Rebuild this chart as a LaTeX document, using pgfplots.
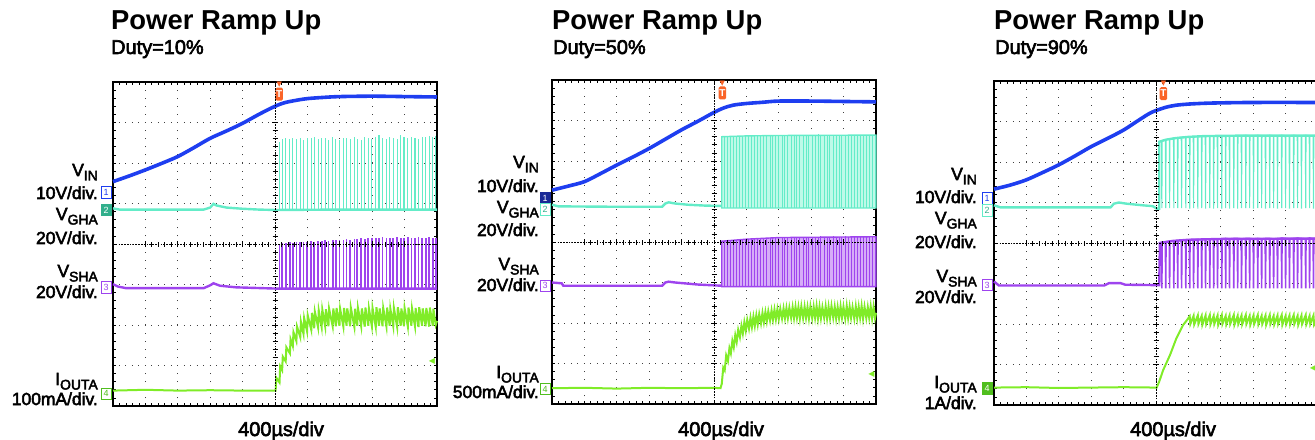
\documentclass[border=0pt]{standalone}
\usepackage{pgfplots}
\pgfplotsset{compat=1.18}
\usepackage{pgfplotstable}
\usepackage{fontspec}
\setmainfont{Liberation Sans}
\newfontfamily\lblfont{Liberation Sans}[FakeBold=3]
\newfontfamily\symfont{DejaVu Sans}

\definecolor{vin}{RGB}{30,62,240}
\definecolor{vgha}{RGB}{100,236,200}
\definecolor{vghalt}{RGB}{190,250,232}
\definecolor{vsha}{RGB}{158,68,238}
\definecolor{vshalt}{RGB}{214,172,248}
\definecolor{iout}{RGB}{128,236,40}
\definecolor{trig}{RGB}{250,100,40}
\definecolor{chtwo}{RGB}{50,175,140}
\definecolor{chone}{RGB}{25,40,150}
\definecolor{chfour}{RGB}{80,190,30}

% pulse trains: x, gate (base, height), switch node (base, height)
\pgfplotstableread{
x gy gv sy sv
0.14 0.85 1.68 -1.09 1.10
0.22 0.85 1.74 -1.09 1.12
0.33 0.85 1.76 -1.09 1.12
0.46 0.85 1.75 -1.09 1.13
0.55 0.85 1.77 -1.09 1.12
0.66 0.85 1.74 -1.09 1.14
0.78 0.85 1.76 -1.09 1.13
0.88 0.85 1.73 -1.09 1.15
0.99 0.85 1.77 -1.09 1.14
1.12 0.85 1.76 -1.09 1.16
1.21 0.85 1.78 -1.09 1.15
1.33 0.85 1.74 -1.09 1.17
1.44 0.85 1.77 -1.09 1.16
1.55 0.85 1.76 -1.09 1.18
1.65 0.85 1.73 -1.09 1.17
1.78 0.85 1.78 -1.09 1.19
1.88 0.85 1.75 -1.09 1.18
1.99 0.85 1.72 -1.09 1.20
2.11 0.85 1.77 -1.09 1.19
2.21 0.85 1.76 -1.09 1.21
2.32 0.85 1.74 -1.09 1.20
2.45 0.85 1.78 -1.09 1.22
2.54 0.85 1.75 -1.09 1.21
2.66 0.85 1.73 -1.09 1.23
2.77 0.85 1.79 -1.09 1.22
2.88 0.85 1.76 -1.09 1.24
2.99 0.85 1.74 -1.09 1.23
3.11 0.85 1.78 -1.09 1.25
3.21 0.85 1.84 -1.09 1.24
3.32 0.85 1.76 -1.09 1.26
3.44 0.85 1.74 -1.09 1.24
3.54 0.85 1.79 -1.09 1.25
3.65 0.85 1.77 -1.09 1.24
3.77 0.85 1.75 -1.09 1.26
3.88 0.85 1.84 -1.09 1.25
3.98 0.85 1.78 -1.09 1.24
4.10 0.85 1.76 -1.09 1.26
4.21 0.85 1.80 -1.09 1.25
4.32 0.85 1.77 -1.09 1.24
4.43 0.85 1.75 -1.09 1.26
4.54 0.85 1.80 -1.09 1.25
4.65 0.85 1.78 -1.09 1.24
4.76 0.85 1.82 -1.09 1.26
4.87 0.85 1.79 -1.09 1.25
4.96 0.85 1.81 -1.09 1.25
}\pulsesA

\pgfplotstableread{
x gy gv sy sv
0.24 0.84 1.76 -1.10 1.12
0.33 0.84 1.77 -1.10 1.13
0.43 0.84 1.77 -1.10 1.13
0.52 0.84 1.78 -1.10 1.14
0.61 0.84 1.77 -1.10 1.14
0.70 0.84 1.78 -1.10 1.15
0.80 0.84 1.78 -1.10 1.15
0.89 0.84 1.77 -1.10 1.16
0.98 0.84 1.78 -1.10 1.16
1.08 0.84 1.79 -1.10 1.17
1.17 0.84 1.78 -1.10 1.17
1.26 0.84 1.79 -1.10 1.18
1.35 0.84 1.78 -1.10 1.18
1.45 0.84 1.79 -1.10 1.19
1.54 0.84 1.80 -1.10 1.19
1.63 0.84 1.79 -1.10 1.20
1.73 0.84 1.78 -1.10 1.20
1.82 0.84 1.80 -1.10 1.21
1.91 0.84 1.79 -1.10 1.21
2.00 0.84 1.80 -1.10 1.22
2.10 0.84 1.79 -1.10 1.22
2.19 0.84 1.80 -1.10 1.21
2.28 0.84 1.81 -1.10 1.22
2.38 0.84 1.80 -1.10 1.23
2.47 0.84 1.79 -1.10 1.22
2.56 0.84 1.80 -1.10 1.23
2.65 0.84 1.81 -1.10 1.22
2.75 0.84 1.80 -1.10 1.23
2.84 0.84 1.79 -1.10 1.22
2.93 0.84 1.80 -1.10 1.23
3.03 0.84 1.81 -1.10 1.23
3.12 0.84 1.80 -1.10 1.22
3.21 0.84 1.82 -1.10 1.23
3.30 0.84 1.80 -1.10 1.24
3.40 0.84 1.79 -1.10 1.23
3.49 0.84 1.80 -1.10 1.22
3.58 0.84 1.81 -1.10 1.23
3.68 0.84 1.80 -1.10 1.24
3.77 0.84 1.79 -1.10 1.23
3.86 0.84 1.80 -1.10 1.22
3.95 0.84 1.81 -1.10 1.23
4.05 0.84 1.80 -1.10 1.24
4.14 0.84 1.79 -1.10 1.23
4.23 0.84 1.80 -1.10 1.22
4.33 0.84 1.81 -1.10 1.23
4.42 0.84 1.80 -1.10 1.24
4.51 0.84 1.79 -1.10 1.23
4.60 0.84 1.80 -1.10 1.22
4.70 0.84 1.81 -1.10 1.23
4.79 0.84 1.80 -1.10 1.24
4.88 0.84 1.79 -1.10 1.23
4.97 0.84 1.80 -1.10 1.23
}\pulsesB

\pgfplotsset{
  scopegrid/.style={
    scale only axis, width=324bp, height=324bp, anchor=south west,
    xmin=-5, xmax=5, ymin=-4, ymax=4,
    xtick={-5,...,5}, ytick={-4,...,4},
    minor x tick num=4, minor y tick num=4,
    xticklabels={}, yticklabels={},
    tick pos=both, tick align=inside,
    major tick length=3bp, minor tick length=3bp,
    tick style={black, line width=0.8bp},
    grid=major,
    x grid style={black!75, line width=1bp, dash pattern=on 1bp off 7.1bp, dash phase=0.5bp},
    y grid style={black!75, line width=1bp, dash pattern=on 1bp off 5.48bp, dash phase=0.5bp},
    axis line style={black, line width=2.2bp},
    clip=false,
  },
  scopecross/.style={
    scale only axis, width=324bp, height=324bp, anchor=south west,
    xmin=-5, xmax=5, ymin=-4, ymax=4,
    axis lines=middle,
    axis line style={-, black, line width=0.9bp, dash pattern=on 1.6bp off 1.2bp},
    xtick={-4,...,4}, ytick={-3,...,3},
    minor x tick num=4, minor y tick num=4,
    xticklabels={}, yticklabels={},
    tick align=center, major tick length=6bp, minor tick length=5bp,
    tick style={black, line width=0.8bp},
  },
}
\tikzset{
  chm/.style={anchor=east, xshift=-1.5bp, minimum width=10bp, minimum height=11.5bp,
    inner sep=0pt, line width=0.8bp, font=\fontsize{9}{9}\selectfont},
  trigbox/.style={fill=trig, text=white, inner sep=0pt, minimum width=7.5bp, minimum height=13bp,
    rounded corners=1.5bp, font=\fontsize{10}{10}\selectfont\bfseries},
  trigtip/.style={text=trig, inner sep=0pt, font=\symfont\fontsize{7}{7}\selectfont},
  lvl/.style={text=iout, inner sep=0pt, anchor=west, font=\symfont\fontsize{8}{8}\selectfont},
}

\newcommand\sig[2]{{\lblfont\fontsize{17.5}{18}\selectfont #1}\raisebox{-4.5bp}{\lblfont\fontsize{14}{14}\selectfont #2}}
\newcommand\perdiv[1]{{\lblfont\fontsize{17.5}{18}\selectfont #1}}
\newcommand\ttl[1]{{\fontsize{27.5}{30}\selectfont\bfseries #1}}
\newcommand\duty[1]{{\lblfont\fontsize{20}{21}\selectfont #1}}
\newcommand\tdiv{{\lblfont\fontsize{20}{21}\selectfont 400µs/div}}

\begin{document}
\begin{tikzpicture}
\begin{scope}
\clip (0,0) rectangle (1315bp,440bp);

% ---------------- panel 1: duty 10% ----------------
\begin{axis}[scopegrid, at={(113bp,34bp)}]
\addplot[vgha, line width=1.1bp, quiver={u=0,v=\thisrow{gv}}] table[x=x,y=gy]{\pulsesA};
\addplot[vsha, line width=1.7bp, quiver={u=0,v=\thisrow{sv}}] table[x=x,y=sy]{\pulsesA};
\addplot[vgha, line width=2.4bp] coordinates {
(-5,0.88)(-4.8,0.85)(-3,0.85)(-2.2,0.85)(-2.0,0.9)(-1.9,0.99)(-1.8,0.95)(-1.5,0.9)(-1,0.87)(-0.5,0.85)(0,0.84)(2,0.85)(5,0.85)};
\addplot[vsha, line width=2.4bp] coordinates {
(-5,-0.99)(-4.85,-1.05)(-4.6,-1.09)(-2.2,-1.09)(-2.0,-1.02)(-1.9,-0.97)(-1.7,-1.03)(-1.2,-1.07)(0,-1.1)(5,-1.1)};
\addplot[iout, line width=2.0bp] coordinates {
(-5,-3.62)(-4,-3.6)(-3,-3.62)(-2,-3.61)(-1,-3.62)(0.02,-3.62)(0.04,-3.3)
(0.14,-3.42)(0.16,-3.02)(0.22,-3.12)(0.24,-2.78)(0.33,-2.9)(0.35,-2.55)(0.46,-2.7)(0.48,-2.35)
(0.55,-2.52)(0.57,-2.18)(0.66,-2.4)(0.68,-2.04)(0.78,-2.3)(0.80,-1.92)(0.88,-2.22)(0.90,-1.83)
(0.99,-2.16)(1.01,-1.76)(1.12,-2.12)(1.14,-1.7)(1.21,-2.08)(1.23,-1.67)(1.33,-2.06)(1.35,-1.64)
(1.44,-2.05)(1.46,-1.62)(1.55,-2.04)(1.57,-1.61)(1.65,-2.03)(1.67,-1.6)(1.78,-2.03)(1.80,-1.59)
(1.88,-2.03)(1.90,-1.58)(1.99,-2.02)(2.01,-1.6)(2.11,-2.04)(2.13,-1.58)(2.21,-2.02)(2.23,-1.59)
(2.32,-2.03)(2.34,-1.57)(2.45,-2.05)(2.47,-1.6)(2.54,-2.02)(2.56,-1.58)(2.66,-2.03)(2.68,-1.59)
(2.77,-2.04)(2.79,-1.57)(2.88,-2.02)(2.90,-1.6)(2.99,-2.03)(3.01,-1.58)(3.11,-2.05)(3.13,-1.56)
(3.21,-2.02)(3.23,-1.59)(3.32,-2.03)(3.34,-1.58)(3.44,-2.04)(3.46,-1.57)(3.54,-2.02)(3.56,-1.6)
(3.65,-2.03)(3.67,-1.58)(3.77,-2.05)(3.79,-1.56)(3.88,-2.02)(3.90,-1.59)(3.98,-2.03)(4.00,-1.58)
(4.10,-2.04)(4.12,-1.57)(4.21,-2.02)(4.23,-1.6)(4.32,-2.03)(4.34,-1.58)(4.43,-2.05)(4.45,-1.56)
(4.54,-2.02)(4.56,-1.59)(4.65,-2.03)(4.67,-1.58)(4.76,-2.04)(4.78,-1.57)(4.87,-2.02)(4.89,-1.6)
(4.96,-2.0)(5,-1.9)};
\addplot[vin, line width=3.6bp, smooth] coordinates {
(-5,1.54)(-4.5,1.68)(-4,1.83)(-3.5,1.99)(-3,2.16)(-2.5,2.38)(-2,2.61)(-1.5,2.79)(-1,2.98)
(-0.5,3.2)(0,3.4)(0.3,3.49)(0.67,3.55)(1.0,3.59)(1.5,3.62)(2,3.64)(3,3.65)(4,3.64)(5,3.63)};
\node[chm, draw=vin, text=vin, fill=white] at (axis cs:-5,1.27) {1};
\node[chm, draw=chtwo, fill=chtwo, text=white] at (axis cs:-5,0.84) {2};
\node[chm, draw=vsha, text=vsha, fill=white] at (axis cs:-5,-1.07) {3};
\node[chm, draw=chfour, text=chfour, fill=white] at (axis cs:-5,-3.70) {4};
\node[trigbox] at (axis cs:0.13,3.70) {T};
\node[trigtip] at (axis cs:0.13,3.93) {▼};
\node[lvl] at (axis cs:4.74,-2.9) {◀};
\end{axis}
\begin{axis}[scopecross, at={(113bp,34bp)}]
\end{axis}

% ---------------- panel 2: duty 50% ----------------
\begin{axis}[scopegrid, at={(552bp,36bp)}]
\addplot[fill=vghalt, draw=vgha, line width=1.4bp] coordinates {
(0.24,0.84)(0.24,2.60)(1,2.62)(2,2.63)(5,2.64)(5,0.84)} -- cycle;
\addplot[fill=vshalt, draw=vsha, line width=1.4bp] coordinates {
(0.24,-1.10)(0.24,0.02)(1,0.07)(2,0.11)(5,0.13)(5,-1.10)} -- cycle;
\addplot[vgha, line width=1.0bp, quiver={u=0,v=\thisrow{gv}}] table[x=x,y=gy]{\pulsesB};
\addplot[vsha, line width=1.0bp, quiver={u=0,v=\thisrow{sv}}] table[x=x,y=sy]{\pulsesB};
\addplot[vgha, line width=2.4bp] coordinates {
(-5,0.92)(-4.8,0.88)(-3,0.87)(-1.6,0.87)(-1.5,0.95)(-1.4,0.98)(-1.2,0.95)(-0.8,0.92)(-0.3,0.9)(0.24,0.89)};
\addplot[vsha, line width=2.4bp] coordinates {
(-5,-1.0)(-4.7,-1.02)(-4.65,-1.08)(-3,-1.08)(-1.6,-1.08)(-1.5,-1.0)(-1.4,-0.98)(-1.2,-1.0)(-0.5,-1.05)(0.24,-1.08)};
\addplot[iout, line width=2.0bp] coordinates {
(-5,-3.61)(-4,-3.6)(-3,-3.62)(-2,-3.6)(-1,-3.61)(0,-3.6)(0.2,-3.61)
(0.24,-3.5)(0.286,-3.1)(0.33,-3.17)(0.376,-2.8)(0.43,-2.94)(0.476,-2.62)(0.52,-2.75)(0.566,-2.44)
(0.61,-2.6)(0.656,-2.3)(0.70,-2.47)(0.746,-2.17)(0.80,-2.35)(0.846,-2.07)(0.89,-2.26)(0.936,-1.98)
(0.98,-2.19)(1.026,-1.92)(1.08,-2.14)(1.126,-1.87)(1.17,-2.1)(1.216,-1.84)(1.26,-2.07)(1.306,-1.81)
(1.35,-2.04)(1.396,-1.78)(1.45,-2.01)(1.496,-1.75)(1.54,-1.98)(1.586,-1.73)(1.63,-1.96)(1.676,-1.71)
(1.73,-1.94)(1.776,-1.69)(1.82,-1.92)(1.866,-1.67)(1.91,-1.91)(1.956,-1.66)(2.00,-1.9)(2.046,-1.65)
(2.10,-1.89)(2.146,-1.64)(2.19,-1.88)(2.236,-1.63)(2.28,-1.88)(2.326,-1.62)(2.38,-1.87)(2.426,-1.61)
(2.47,-1.88)(2.516,-1.6)(2.56,-1.87)(2.606,-1.61)(2.65,-1.89)(2.696,-1.59)(2.75,-1.88)(2.796,-1.6)
(2.84,-1.87)(2.886,-1.61)(2.93,-1.89)(2.976,-1.59)(3.03,-1.88)(3.076,-1.6)(3.12,-1.87)(3.166,-1.58)
(3.21,-1.89)(3.256,-1.6)(3.30,-1.88)(3.346,-1.61)(3.40,-1.87)(3.446,-1.59)(3.49,-1.89)(3.536,-1.6)
(3.58,-1.88)(3.626,-1.58)(3.68,-1.87)(3.726,-1.6)(3.77,-1.89)(3.816,-1.61)(3.86,-1.88)(3.906,-1.59)
(3.95,-1.87)(3.996,-1.6)(4.05,-1.89)(4.096,-1.58)(4.14,-1.88)(4.186,-1.6)(4.23,-1.87)(4.276,-1.61)
(4.33,-1.89)(4.376,-1.59)(4.42,-1.88)(4.466,-1.6)(4.51,-1.87)(4.556,-1.58)(4.60,-1.89)(4.646,-1.6)
(4.70,-1.88)(4.746,-1.61)(4.79,-1.87)(4.836,-1.59)(4.88,-1.89)(4.926,-1.6)(4.97,-1.88)(5.0,-1.75)};
\addplot[vin, line width=3.6bp, smooth] coordinates {
(-5,1.28)(-4.5,1.38)(-4,1.49)(-3.5,1.69)(-3,1.90)(-2.5,2.10)(-2,2.31)(-1.5,2.54)(-1,2.77)
(-0.5,2.98)(0,3.2)(0.3,3.31)(0.6,3.38)(1.0,3.42)(1.5,3.45)(2,3.48)(3,3.48)(4,3.47)(5,3.46)};
\node[chm, draw=chone, fill=chone, text=white] at (axis cs:-5,1.08) {1};
\node[chm, draw=vgha, text=chtwo, fill=white] at (axis cs:-5,0.81) {2};
\node[chm, draw=vsha, text=vsha, fill=white] at (axis cs:-5,-1.08) {3};
\node[chm, draw=chfour, text=chfour, fill=white] at (axis cs:-5,-3.63) {4};
\node[trigbox] at (axis cs:0.26,3.68) {T};
\node[trigtip] at (axis cs:0.26,3.92) {▼};
\node[lvl] at (axis cs:4.76,-3.28) {◀};
\end{axis}
\begin{axis}[scopecross, at={(552bp,36bp)}]
\end{axis}

% ---------------- panel 3: duty 90% ----------------
\begin{axis}[scopegrid, at={(994bp,35bp)}]
% gate: high level with short dips to the low level
\addplot[vgha, line width=1.1bp] coordinates {
(0.10,2.50)(0.17,2.52)(0.18,0.86)(0.19,2.53)(0.29,2.55)(0.30,0.86)(0.31,2.55)
(0.41,2.57)(0.42,0.86)(0.43,2.57)(0.54,2.59)(0.55,0.86)(0.56,2.59)(0.66,2.60)(0.67,0.86)(0.68,2.60)
(0.78,2.61)(0.79,0.86)(0.80,2.61)(0.91,2.62)(0.92,0.86)(0.93,2.62)(1.03,2.62)(1.04,0.85)(1.05,2.62)
(1.15,2.63)(1.16,0.86)(1.17,2.63)(1.28,2.63)(1.29,0.85)(1.30,2.63)(1.40,2.64)(1.41,0.86)(1.42,2.64)
(1.52,2.64)(1.53,0.85)(1.54,2.64)(1.65,2.64)(1.66,0.86)(1.67,2.64)(1.77,2.64)(1.78,0.85)(1.79,2.64)
(1.89,2.65)(1.90,0.86)(1.91,2.65)(2.02,2.65)(2.03,0.85)(2.04,2.65)(2.14,2.65)(2.15,0.86)(2.16,2.65)
(2.26,2.65)(2.27,0.85)(2.28,2.65)(2.39,2.65)(2.40,0.86)(2.41,2.65)(2.51,2.65)(2.52,0.85)(2.53,2.65)
(2.63,2.65)(2.64,0.86)(2.65,2.65)(2.76,2.66)(2.77,0.86)(2.78,2.66)(2.88,2.65)(2.89,0.86)(2.90,2.65)
(3.00,2.65)(3.01,0.85)(3.02,2.65)(3.13,2.66)(3.14,0.86)(3.15,2.66)(3.25,2.65)(3.26,0.86)(3.27,2.65)
(3.37,2.65)(3.38,0.85)(3.39,2.65)(3.50,2.66)(3.51,0.86)(3.52,2.66)(3.62,2.65)(3.63,0.86)(3.64,2.65)
(3.74,2.65)(3.75,0.85)(3.76,2.65)(3.87,2.66)(3.88,0.86)(3.89,2.66)(3.99,2.65)(4.00,0.86)(4.01,2.65)
(4.11,2.65)(4.12,0.85)(4.13,2.65)(4.24,2.66)(4.25,0.86)(4.26,2.66)(4.36,2.65)(4.37,0.86)(4.38,2.65)
(4.48,2.65)(4.49,0.85)(4.50,2.65)(4.61,2.66)(4.62,0.86)(4.63,2.66)(4.73,2.65)(4.74,0.86)(4.75,2.65)
(4.85,2.65)(4.86,0.85)(4.87,2.65)(5,2.65)};
% switch node: same dips
\addplot[vsha, line width=1.6bp] coordinates {
(0.12,0.0)(0.17,0.01)(0.18,-1.12)(0.19,0.02)(0.29,0.03)(0.30,-1.12)(0.31,0.03)
(0.41,0.04)(0.42,-1.12)(0.43,0.04)(0.54,0.05)(0.55,-1.12)(0.56,0.05)(0.66,0.06)(0.67,-1.12)(0.68,0.06)
(0.78,0.07)(0.79,-1.12)(0.80,0.07)(0.91,0.07)(0.92,-1.12)(0.93,0.07)(1.03,0.08)(1.04,-1.12)(1.05,0.08)
(1.15,0.08)(1.16,-1.12)(1.17,0.08)(1.28,0.09)(1.29,-1.12)(1.30,0.09)(1.40,0.09)(1.41,-1.12)(1.42,0.09)
(1.52,0.09)(1.53,-1.12)(1.54,0.09)(1.65,0.10)(1.66,-1.12)(1.67,0.10)(1.77,0.10)(1.78,-1.12)(1.79,0.10)
(1.89,0.10)(1.90,-1.12)(1.91,0.10)(2.02,0.10)(2.03,-1.12)(2.04,0.10)(2.14,0.11)(2.15,-1.12)(2.16,0.11)
(2.26,0.10)(2.27,-1.12)(2.28,0.10)(2.39,0.11)(2.40,-1.12)(2.41,0.11)(2.51,0.11)(2.52,-1.12)(2.53,0.11)
(2.63,0.10)(2.64,-1.12)(2.65,0.10)(2.76,0.11)(2.77,-1.12)(2.78,0.11)(2.88,0.11)(2.89,-1.12)(2.90,0.11)
(3.00,0.10)(3.01,-1.12)(3.02,0.10)(3.13,0.11)(3.14,-1.12)(3.15,0.11)(3.25,0.10)(3.26,-1.12)(3.27,0.10)
(3.37,0.11)(3.38,-1.12)(3.39,0.11)(3.50,0.11)(3.51,-1.12)(3.52,0.11)(3.62,0.10)(3.63,-1.12)(3.64,0.10)
(3.74,0.11)(3.75,-1.12)(3.76,0.11)(3.87,0.12)(3.88,-1.12)(3.89,0.12)(3.99,0.11)(4.00,-1.12)(4.01,0.11)
(4.11,0.10)(4.12,-1.12)(4.13,0.10)(4.24,0.11)(4.25,-1.12)(4.26,0.11)(4.36,0.12)(4.37,-1.12)(4.38,0.12)
(4.48,0.11)(4.49,-1.12)(4.50,0.11)(4.61,0.10)(4.62,-1.12)(4.63,0.10)(4.73,0.12)(4.74,-1.12)(4.75,0.12)
(4.85,0.11)(4.86,-1.12)(4.87,0.11)(5,0.11)};
\addplot[vgha, line width=2.4bp] coordinates {
(-5,0.93)(-4.8,0.88)(-3,0.88)(-1.4,0.88)(-1.3,0.97)(-1.15,1.0)(-0.9,0.97)(-0.4,0.93)(-0.1,0.91)(0.02,0.85)(0.10,0.85)
(0.10,2.50)(0.3,2.55)(0.6,2.59)(1.0,2.62)(1.5,2.64)(2.5,2.65)(5,2.65)};
\addplot[vsha, line width=2.4bp] coordinates {
(-5,-0.95)(-4.85,-1.05)(-3,-1.05)(-1.6,-1.05)(-1.45,-0.99)(-1.1,-0.99)(-0.95,-1.03)(0,-1.04)(0.10,-1.04)
(0.12,0.0)(0.5,0.05)(1,0.08)(2,0.1)(5,0.11)};
\addplot[iout, line width=2.0bp] coordinates {
(-5,-3.57)(-4,-3.56)(-3,-3.58)(-2,-3.57)(-1,-3.56)(0.02,-3.57)
(0.1,-3.42)(0.22,-3.14)(0.43,-2.77)(0.63,-2.35)(0.84,-2.02)(0.94,-1.92)
(1.04,-1.81)(1.06,-2.0)(1.16,-1.8)(1.18,-2.01)(1.29,-1.79)(1.31,-2.0)(1.41,-1.8)(1.43,-2.02)
(1.53,-1.79)(1.55,-2.0)(1.66,-1.78)(1.68,-2.01)(1.78,-1.8)(1.80,-2.0)(1.90,-1.79)(1.92,-2.02)
(2.03,-1.78)(2.05,-2.0)(2.15,-1.8)(2.17,-2.01)(2.27,-1.79)(2.29,-2.0)(2.40,-1.78)(2.42,-2.02)
(2.52,-1.8)(2.54,-2.0)(2.64,-1.79)(2.66,-2.01)(2.77,-1.78)(2.79,-2.0)(2.89,-1.8)(2.91,-2.02)
(3.01,-1.79)(3.03,-2.0)(3.14,-1.78)(3.16,-2.01)(3.26,-1.8)(3.28,-2.0)(3.38,-1.79)(3.40,-2.02)
(3.51,-1.78)(3.53,-2.0)(3.63,-1.8)(3.65,-2.01)(3.75,-1.79)(3.77,-2.0)(3.88,-1.78)(3.90,-2.02)
(4.00,-1.8)(4.02,-2.0)(4.12,-1.79)(4.14,-2.01)(4.25,-1.78)(4.27,-2.0)(4.37,-1.8)(4.39,-2.02)
(4.49,-1.79)(4.51,-2.0)(4.62,-1.78)(4.64,-2.01)(4.74,-1.8)(4.76,-2.0)(4.86,-1.79)(4.88,-2.02)
(5.0,-1.84)};
\addplot[vin, line width=3.6bp, smooth] coordinates {
(-5,1.33)(-4.5,1.43)(-4,1.56)(-3.5,1.74)(-3,1.93)(-2.5,2.15)(-2,2.38)(-1.5,2.58)(-1,2.79)
(-0.5,3.05)(-0.2,3.2)(0,3.27)(0.3,3.35)(0.6,3.4)(1.0,3.43)(1.5,3.45)(2,3.46)(3,3.47)(5,3.47)};
\node[chm, draw=vin, text=vin, fill=white] at (axis cs:-5,1.10) {1};
\node[chm, draw=vgha, text=chtwo, fill=white] at (axis cs:-5,0.81) {2};
\node[chm, draw=vsha, text=vsha, fill=white] at (axis cs:-5,-1.04) {3};
\node[chm, draw=chfour, fill=chfour, text=white] at (axis cs:-5,-3.59) {4};
\node[trigbox] at (axis cs:0.23,3.69) {T};
\node[trigtip] at (axis cs:0.23,3.93) {▼};
\node[lvl] at (axis cs:4.74,-3.09) {◀};
\end{axis}
\begin{axis}[scopecross, at={(994bp,35bp)}]
\end{axis}

% ---------------- titles and channel labels ----------------
\begin{scope}[every node/.style={inner sep=0pt}]
\node[anchor=base west] at (111bp,410bp) {\ttl{Power Ramp Up}};
\node[anchor=base west] at (111bp,386bp) {\duty{Duty=10\%}};
\node[anchor=base west] at (552bp,410bp) {\ttl{Power Ramp Up}};
\node[anchor=base west] at (553bp,386bp) {\duty{Duty=50\%}};
\node[anchor=base west] at (994bp,410bp) {\ttl{Power Ramp Up}};
\node[anchor=base west] at (995bp,386bp) {\duty{Duty=90\%}};

\node[anchor=base west] at (238bp,4bp) {\tdiv};
\node[anchor=base west] at (678bp,4bp) {\tdiv};
\node[anchor=base west] at (1130bp,4bp) {\tdiv};

\node[anchor=base east] at (98bp,264bp) {\sig{V}{IN}};
\node[anchor=base east] at (98bp,241bp) {\perdiv{10V/div.}};
\node[anchor=base east] at (98bp,220bp) {\sig{V}{GHA}};
\node[anchor=base east] at (98bp,196bp) {\perdiv{20V/div.}};
\node[anchor=base east] at (98bp,163bp) {\sig{V}{SHA}};
\node[anchor=base east] at (98bp,142bp) {\perdiv{20V/div.}};
\node[anchor=base east] at (98bp,55bp) {\sig{I}{OUTA}};
\node[anchor=base east] at (98bp,35bp) {\perdiv{100mA/div.}};

\node[anchor=base east] at (539bp,272bp) {\sig{V}{IN}};
\node[anchor=base east] at (539bp,248bp) {\perdiv{10V/div.}};
\node[anchor=base east] at (539bp,227bp) {\sig{V}{GHA}};
\node[anchor=base east] at (539bp,204bp) {\perdiv{20V/div.}};
\node[anchor=base east] at (539bp,170bp) {\sig{V}{SHA}};
\node[anchor=base east] at (539bp,149bp) {\perdiv{20V/div.}};
\node[anchor=base east] at (539bp,62bp) {\sig{I}{OUTA}};
\node[anchor=base east] at (539bp,42bp) {\perdiv{500mA/div.}};

\node[anchor=base east] at (977bp,260bp) {\sig{V}{IN}};
\node[anchor=base east] at (977bp,237bp) {\perdiv{10V/div.}};
\node[anchor=base east] at (977bp,216bp) {\sig{V}{GHA}};
\node[anchor=base east] at (977bp,192bp) {\perdiv{20V/div.}};
\node[anchor=base east] at (977bp,158bp) {\sig{V}{SHA}};
\node[anchor=base east] at (977bp,137bp) {\perdiv{20V/div.}};
\node[anchor=base east] at (977bp,52bp) {\sig{I}{OUTA}};
\node[anchor=base east] at (977bp,31bp) {\perdiv{1A/div.}};
\end{scope}
\end{scope}
\pgfresetboundingbox
\path (0,0) rectangle (1315bp,440bp);
\end{tikzpicture}
\end{document}
